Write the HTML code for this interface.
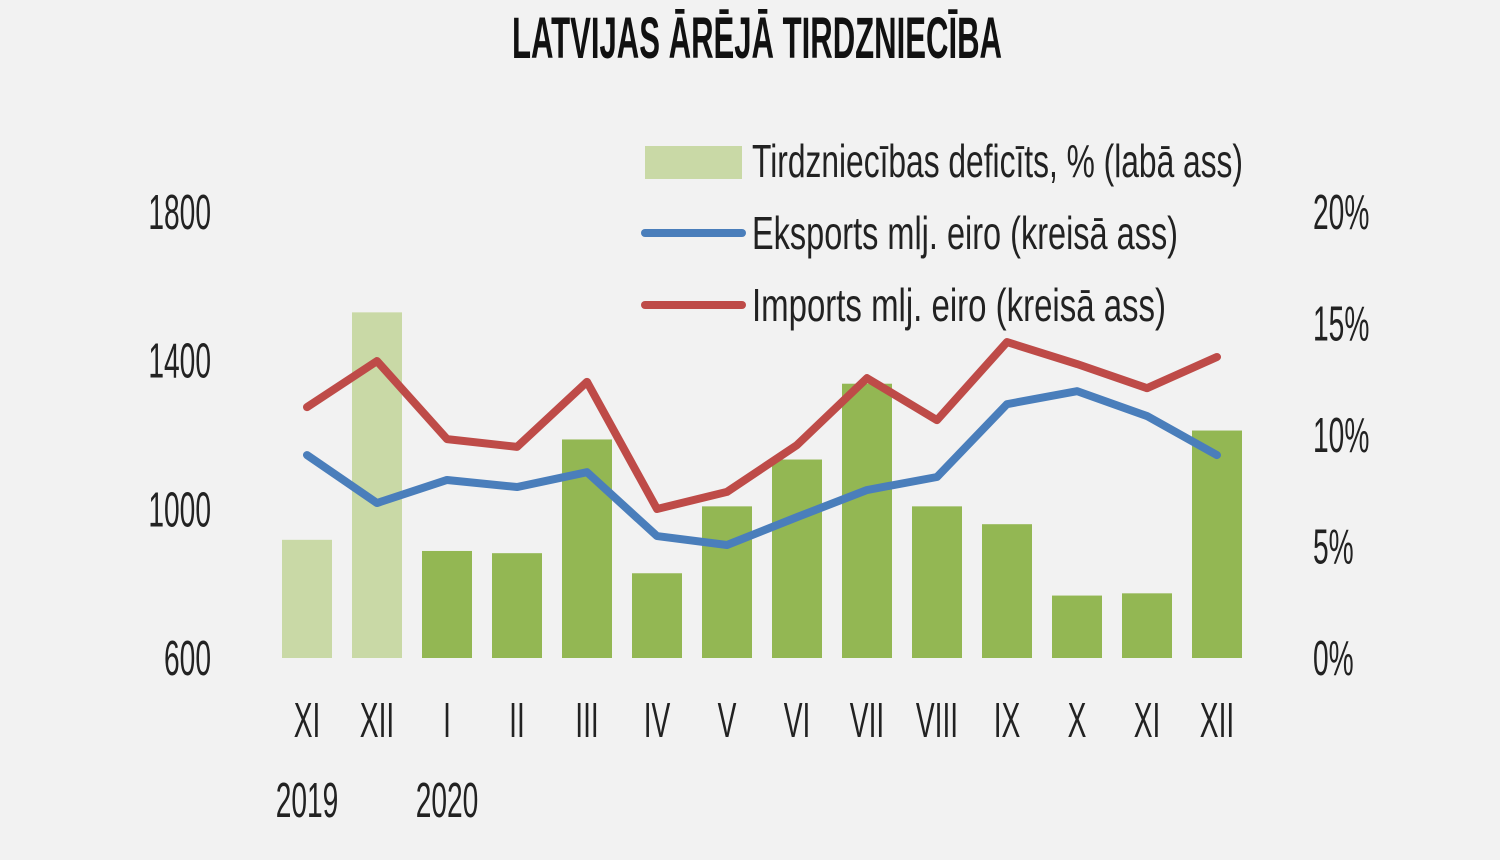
<!DOCTYPE html>
<html><head><meta charset="utf-8"><style>
html,body{margin:0;padding:0;background:#f2f2f2;}
svg{display:block;font-family:"Liberation Sans Narrow","Liberation Sans",sans-serif;}
</style></head><body>
<svg width="1500" height="860" viewBox="0 0 1500 860">
<rect width="1500" height="860" fill="#f2f2f2"/>
<text x="757" y="58" text-anchor="middle" font-size="58" font-weight="bold" textLength="490" lengthAdjust="spacingAndGlyphs" fill="#111">LATVIJAS ĀRĒJĀ TIRDZNIECĪBA</text>
<g id="bars"></g><g id="lines"></g><g id="axes"></g>
<g>
<rect x="645" y="146" width="97" height="33" fill="#c9d9a6"/>
<text x="752" y="177" font-size="46" textLength="491" lengthAdjust="spacingAndGlyphs" fill="#222">Tirdzniecības deficīts, % (labā ass)</text>
<line x1="645" y1="233" x2="742" y2="233" stroke="#4a7ebb" stroke-width="8" stroke-linecap="round"/>
<text x="752" y="249" font-size="46" textLength="426" lengthAdjust="spacingAndGlyphs" fill="#222">Eksports mlj. eiro (kreisā ass)</text>
<line x1="645" y1="305" x2="742" y2="305" stroke="#be4b48" stroke-width="8" stroke-linecap="round"/>
<text x="752" y="321" font-size="46" textLength="414" lengthAdjust="spacingAndGlyphs" fill="#222">Imports mlj. eiro (kreisā ass)</text>
</g>
</svg>
<script>
const categories=["XI","XII","I","II","III","IV","V","VI","VII","VIII","IX","X","XI","XII"];
const deficitPct=[5.3,15.5,4.8,4.7,9.8,3.8,6.8,8.9,12.3,6.8,6.0,2.8,2.9,10.2];
const exportsM=[1146,1017,1079,1060,1100,928,904,979,1052,1087,1283,1318,1251,1146];
const importsM=[1275,1399,1189,1168,1343,1001,1047,1173,1353,1240,1450,1391,1326,1410];
const leftTicks=[600,1000,1400,1800];
const rightTicks=[0,5,10,15,20];
const yearLabels=[["2019",0],["2020",2]];
const NS="http://www.w3.org/2000/svg";
const yL=v=>658-(v-600)*(446/1200);
const yR=v=>658-v*(446/20);
const xC=i=>307+i*70;
function mk(t,a,p){const e=document.createElementNS(NS,t);for(const k in a)e.setAttribute(k,a[k]);p.appendChild(e);return e;}
function txt(x,y,anchor,s){const t=mk('text',{x:0,y:0,'text-anchor':anchor,'font-size':44,fill:'#222',transform:'translate('+x+','+y+') scale(0.64,1.12)'},axes);t.textContent=s;return t;}
const bars=document.getElementById('bars'),lines=document.getElementById('lines'),axes=document.getElementById('axes');
deficitPct.forEach((v,i)=>{const r=mk('rect',{x:xC(i)-25,y:yR(v),width:50,height:658-yR(v),fill:i<2?'#c9d9a6':'#93b753'},bars);

});
[[exportsM,'#4a7ebb','export-line'],[importsM,'#be4b48','import-line']].forEach(([d,c,n])=>{
const p=mk('polyline',{points:d.map((v,i)=>xC(i)+','+yL(v)).join(' '),fill:'none',stroke:c,'stroke-width':8,'stroke-linejoin':'round','stroke-linecap':'round'},lines);

});
leftTicks.forEach(v=>{const t=txt(211,yL(v)+17,'end',String(v));

});
rightTicks.forEach(v=>{const t=txt(1313,yR(v)+17,'start',v+'%');

});
categories.forEach((c,i)=>{const t=txt(xC(i),737,'middle',c);

});
yearLabels.forEach(([y,i])=>{const t=txt(xC(i),817,'middle',y);

});
</script>
</body></html>
